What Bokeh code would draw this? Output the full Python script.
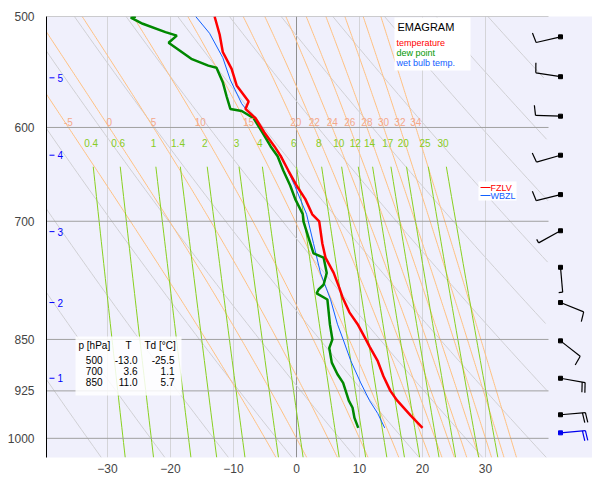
import numpy as np
from bokeh.plotting import figure
from bokeh.models import Range1d, FixedTicker, Label
from bokeh.embed import file_html
from bokeh.resources import INLINE

# ---- data ----
temp_p = [983, 963, 940, 925, 903, 881, 860, 850, 829, 813, 793, 781, 762, 743, 726, 700, 692, 675, 660, 644,
          629, 619, 605, 591, 582, 575, 560, 545, 530, 515, 500]
temp_t = [20.0, 18.1, 16.0, 14.9, 13.8, 12.9, 11.6, 11.0, 9.7, 8.4, 7.3, 6.8, 5.9, 4.6, 4.1, 3.6, 2.5, 1.4, 0.0, -1.3,
          -2.5, -3.5, -5.1, -6.5, -8.1, -7.6, -9.5, -10.3, -11.7, -12.2, -13.0]
dew_p = [983, 967, 951, 940, 913, 900, 883, 862, 850, 829, 796, 788, 783, 777, 762, 743, 738, 726, 700, 692, 675,
         660, 644, 629, 619, 605, 591, 584, 582, 570, 557, 544, 542, 536, 522, 516, 513, 506, 501, 500]
dew_t = [9.8, 9.2, 8.9, 8.3, 7.4, 6.5, 5.6, 5.2, 5.7, 5.3, 4.9, 3.2, 3.5, 4.3, 4.8, 4.3, 2.7, 2.2, 1.1, 1.0, -0.2,
         -1.0, -2.1, -3.0, -4.1, -5.4, -6.8, -8.7, -10.5, -11.1, -11.7, -12.7, -14.0, -16.7, -20.3, -19.0, -20.8,
         -24.4, -26.3, -25.5]
wb_p = [983, 960, 940, 913, 880, 850, 829, 796, 762, 726, 692, 660, 629, 605, 577, 555, 535, 514, 500]
wb_t = [14.0, 12.9, 11.6, 10.2, 8.6, 7.4, 6.5, 5.4, 3.8, 2.7, 1.6, -0.3, -2.4, -5.1, -8.7, -10.5, -11.7, -13.8, -16.0]

wind_p = [517, 552, 589, 628, 670, 711, 755, 800, 852, 906, 962, 991]
wind_dir = [257, 279, 272, 254, 256, 241, 175, 112, 128, 100, 85, 85]
wind_kt = [10, 10, 10, 10, 10, 5, 5, 10, 10, 20, 20, 20]

table_p = [500, 700, 850]
table_t = [-13.0, 3.6, 11.0]
table_td = [-25.5, 1.1, 5.7]

p_ticks = [500, 600, 700, 850, 925, 1000]
t_ticks = [-30, -20, -10, 0, 10, 20, 30]
alt_km = [1, 2, 3, 4, 5]
alt_p = [906, 800, 712, 628, 553]
thetaw_labels = [-5, 0, 5, 10, 15, 20, 22, 24, 26, 28, 30, 32, 34]
mix_labels = [0.4, 0.6, 1, 1.4, 2, 3, 4, 6, 8, 10, 12, 14, 17, 20, 25, 30]
theta_list = list(range(240, 380, 10))

# ---- geometry helpers (page pixels -> data) ----
XMIN, XMAX = -39.68, 46.98
PBOT, PTOP = 1032.0, 500.0
FL, FT, FR, FB = 46, 16, 592, 457
def X(px):
    return XMIN + (px - FL) * (XMAX - XMIN) / (FR - FL)
def Y(py):
    return float(np.exp(np.log(PTOP) + (py - FT) * (np.log(PBOT) - np.log(PTOP)) / (FB - FT)))
def PXY(p):
    return FT + (np.log(p) - np.log(PTOP)) * (FB - FT) / (np.log(PBOT) - np.log(PTOP))

p = figure(width=592, height=492, output_backend="svg", toolbar_location=None,
           x_range=Range1d(XMIN, XMAX), y_range=Range1d(PBOT, PTOP), y_axis_type="log",
           min_border_left=46, min_border_right=0, min_border_top=16, min_border_bottom=35,
           background_fill_color="#f0f0fc", border_fill_color="white", outline_line_color=None)
p.xgrid.visible = False
p.ygrid.visible = False
p.yaxis.ticker = FixedTicker(ticks=p_ticks)
p.yaxis.minor_tick_line_color = None
p.yaxis.major_tick_line_color = None
p.yaxis.axis_line_color = "black"
p.yaxis.major_label_text_font = "Liberation Sans"
p.yaxis.major_label_text_font_size = "12px"
p.yaxis.major_label_standoff = 6
p.xaxis.ticker = FixedTicker(ticks=t_ticks)
p.xaxis.minor_tick_line_color = None
p.xaxis.major_tick_line_color = None
p.xaxis.axis_line_color = None
p.xaxis.major_label_text_font = "Liberation Sans"
p.xaxis.major_label_text_font_size = "12px"
p.xaxis.major_label_standoff = 0

XG = X(548)
for t in t_ticks:
    p.segment(x0=t, x1=t, y0=PBOT, y1=PTOP, line_color="#909090" if t == 0 else "#d4d4d8", line_width=1)

pp = np.exp(np.linspace(np.log(PTOP), np.log(PBOT), 80))
for th in theta_list:
    T = th * (pp / 1000.0) ** 0.2857 - 273.15
    m = (T < XG) & (T > XMIN - 5)
    p.line(T[m], pp[m], line_color="#d0d0d4", line_width=1)

def es(tc):
    return 6.112 * np.exp(17.67 * tc / (tc + 243.5))
def moist(tw):
    def step(Tk, lp, dl):
        pr = np.exp(lp)
        e = es(Tk - 273.15)
        rs = 0.622 * e / (pr - e)
        L, Rd, cp = 2.5e6, 287.0, 1004.0
        dT = (Rd * Tk + L * rs) / (cp + L * L * rs * 0.622 / (Rd * Tk * Tk))
        return Tk + dT * dl
    n = 200
    Tk, lp = tw + 273.15, np.log(1000.0)
    dl = (np.log(PTOP) - lp) / n
    a, b = [Tk], [lp]
    for i in range(n):
        Tk = step(Tk, lp, dl); lp += dl
        a.append(Tk); b.append(lp)
    Tk, lp = tw + 273.15, np.log(1000.0)
    dl2 = (np.log(PBOT) - lp) / 10
    c, d = [], []
    for i in range(10):
        Tk = step(Tk, lp, dl2); lp += dl2
        c.append(Tk); d.append(lp)
    return np.array(c[::-1] + a) - 273.15, np.exp(np.array(d[::-1] + b))
for tw in thetaw_labels:
    T, P = moist(tw)
    m = T < XG
    p.line(T[m], P[m], line_color="#ffc080", line_width=1)
    t600 = np.interp(np.log(600), np.log(P[::-1]), T[::-1])
    p.add_layout(Label(x=t600, y=Y(PXY(600) - 1), text=str(tw), text_align="center", text_baseline="bottom",
                       text_color="#f4a88a", text_font="Liberation Sans", text_font_size="10px"))

def td_of(w, pr):
    e = w * pr / (622.0 + w)
    l = np.log(e / 6.112)
    return 243.5 * l / (17.67 - l)
pm = np.exp(np.linspace(np.log(640), np.log(PBOT), 40))
for w in mix_labels:
    T = td_of(w, pm)
    p.line(T, pm, line_color="#88d020", line_width=1)
    p.add_layout(Label(x=td_of(w, 620.0), y=Y(PXY(620)), text=("%g" % w), text_align="center",
                       text_baseline="bottom", text_color="#88cc22", text_font="Liberation Sans",
                       text_font_size="10px"))

for pr in p_ticks:
    p.segment(x0=XMIN, x1=XG, y0=pr, y1=pr, line_color="#a0a0a0", line_width=1)

p.line(wb_t, wb_p, line_color="#1060ff", line_width=1)
p.line(dew_t, dew_p, line_color="#008800", line_width=2.5)
p.line(temp_t, temp_p, line_color="#ff0000", line_width=2.5)

for i, (pr, d, s) in enumerate(zip(wind_p, wind_dir, wind_kt)):
    col = "#0000ee" if i == len(wind_p) - 1 else "black"
    x0, y0 = 560.0, PXY(pr)
    a = np.deg2rad(d)
    ux, uy = np.sin(a), -np.cos(a)
    x1, y1 = x0 + 25 * ux, y0 + 25 * uy
    px_, py_ = -uy, ux
    xs0, ys0, xs1, ys1 = [x0], [y0], [x1], [y1]
    full, half = s // 10, (s % 10) // 5
    k = 0
    for j in range(full):
        bx, by = x1 - 3 * j * ux, y1 - 3 * j * uy
        xs0.append(bx); ys0.append(by); xs1.append(bx + 10 * px_ + 1.5 * ux); ys1.append(by + 10 * py_ + 1.5 * uy)
        k += 1
    if half:
        bx, by = x1 - 3 * k * ux, y1 - 3 * k * uy
        xs0.append(bx); ys0.append(by); xs1.append(bx + 4 * px_); ys1.append(by + 4 * py_)
    p.segment(x0=[X(v) for v in xs0], y0=[Y(v) for v in ys0], x1=[X(v) for v in xs1], y1=[Y(v) for v in ys1],
              line_color=col, line_width=1.2)
    p.rect(x=[X(x0)], y=[Y(y0)], width=4, height=4, width_units="screen", height_units="screen",
           fill_color=col, line_color=col)

for km, pr in zip(alt_km, alt_p):
    p.segment(x0=X(49), x1=X(54), y0=pr, y1=pr, line_color="#0000ff", line_width=1)
    p.add_layout(Label(x=X(57), y=pr, text=str(km), text_baseline="middle", text_color="#0000ff",
                       text_font="Liberation Sans", text_font_size="10px"))

def lab(px, py, txt, col="black", size="12px", style="normal", align="left", base="middle", angle=0.0):
    p.add_layout(Label(x=X(px), y=Y(py), text=txt, text_color=col, text_font="Liberation Sans",
                       text_font_size=size, text_font_style=style, text_align=align, text_baseline=base,
                       angle=angle))

p.quad(left=X(394), right=X(470), top=Y(17), bottom=Y(70), fill_color="white", line_color=None)
lab(397, 26, "EMAGRAM", size="11px")
lab(396, 42, "temperature", "#ff0000", "9px")
lab(396, 52, "dew point", "#009900", "9px")
lab(396, 62, "wet bulb temp.", "#1060ff", "9px")

p.quad(left=X(478), right=X(516), top=Y(181), bottom=Y(200), fill_color="white", line_color=None)
p.segment(x0=X(480), x1=X(490), y0=Y(187), y1=Y(187), line_color="#ff0000", line_width=1)
p.segment(x0=X(480), x1=X(490), y0=Y(195), y1=Y(195), line_color="#1060ff", line_width=1)
lab(490, 187, "FZLV", "#ff0000", "9px")
lab(490, 195, "WBZL", "#1060ff", "9px")

p.quad(left=X(75), right=X(181), top=Y(336), bottom=Y(395), fill_color="white", fill_alpha=0.85, line_color=None)
lab(78, 345, "p [hPa]", size="10px")
lab(125, 345, "T", size="10px")
lab(144, 345, "Td [°C]", size="10px")
for i, (a, b, c) in enumerate(zip(table_p, table_t, table_td)):
    yy = 359 + 11 * i
    lab(102, yy, str(a), size="10px", align="right")
    lab(137, yy, "%.1f" % b, size="10px", align="right")
    lab(174, yy, "%.1f" % c, size="10px", align="right")

lab(48, 8, "Praha-Libus   descent   25.08.2026 13:15 UTC   50.15N,14.90E", style="bold", size="12px")
lab(592, 8, "CHMI © 2026", "#ff0000", "11px", align="right")
lab(197, 479, "Temperature [°C]  /", size="11px")
lab(304, 479, "Mixing ratio [g/kg]", "#66cc00", "11px")
lab(590, 482, "LRL: 267 m ASL", "#0000ff", "10px", align="right")
lab(9, 350, "Pressure [hPa]  /", size="11px", angle=np.pi / 2)
lab(9, 249, "Altitude [km]", "#0000ff", "11px", angle=np.pi / 2)

open("out.html", "w").write(file_html(p, INLINE))
